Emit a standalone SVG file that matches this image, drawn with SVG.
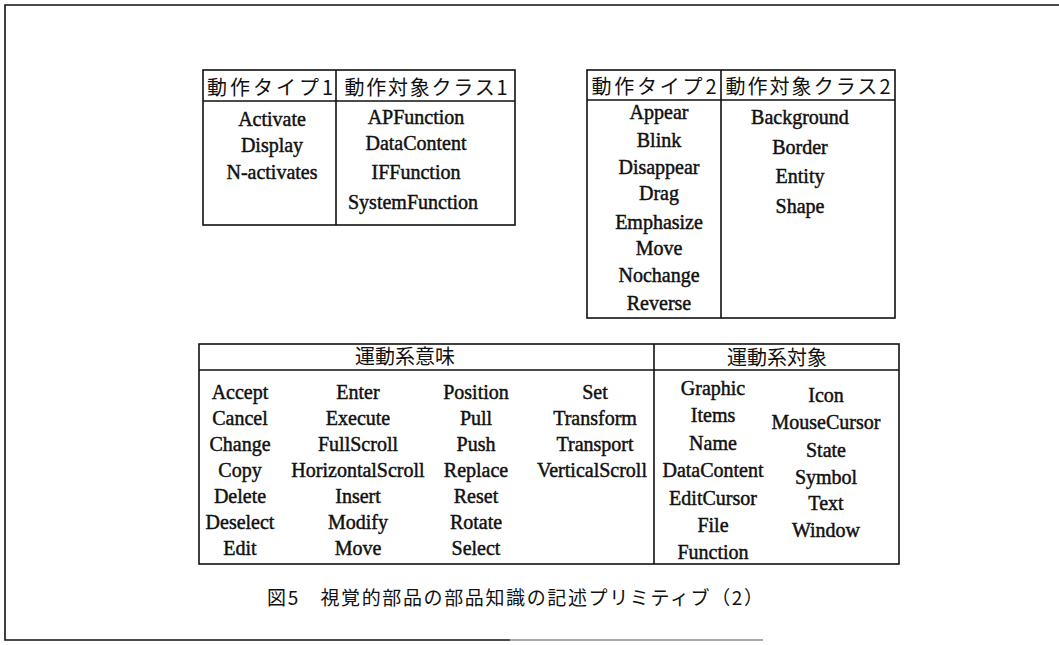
<svg xmlns="http://www.w3.org/2000/svg" width="1059" height="645" viewBox="0 0 1059 645">
<style>
.ln{stroke:#111;stroke-width:1.6;fill:none}
.t{font-family:"Liberation Serif",serif;font-size:20px;fill:#111;stroke:#111;stroke-width:0.45;text-anchor:middle}
.j{font-family:"Noto Sans CJK JP",sans-serif;font-size:20px;fill:#111;text-anchor:middle}
.c{font-family:"Noto Sans CJK JP",sans-serif;font-size:19px;fill:#111}
</style>
<rect width="1059" height="645" fill="#fff"/>
<g id="frame">
<path class="ln" d="M1059,5 H5 V640 H510"/>
<path d="M510,640 H763" stroke="#555" stroke-width="1.2"/>
</g>
<g id="table1">
<rect class="ln" x="203" y="70" width="312" height="155"/>
<path class="ln" d="M203,101 H515 M336,70 V225"/>
<text class="j" x="270" y="95" textLength="126" lengthAdjust="spacing">動作タイプ1</text>
<text class="j" x="426" y="95" textLength="163" lengthAdjust="spacing">動作対象クラス1</text>
<text class="t" x="272" y="126">Activate</text>
<text class="t" x="272" y="152">Display</text>
<text class="t" x="272" y="179">N-activates</text>
<text class="t" x="416" y="124">APFunction</text>
<text class="t" x="416" y="150">DataContent</text>
<text class="t" x="416" y="179">IFFunction</text>
<text class="t" x="413" y="209">SystemFunction</text>
</g>
<g id="table2">
<rect class="ln" x="587" y="70" width="308" height="248"/>
<path class="ln" d="M587,100 H895 M721,70 V318"/>
<text class="j" x="654" y="94" textLength="125" lengthAdjust="spacing">動作タイプ2</text>
<text class="j" x="808" y="94" textLength="165" lengthAdjust="spacing">動作対象クラス2</text>
<text class="t" x="659" y="119">Appear</text>
<text class="t" x="659" y="147">Blink</text>
<text class="t" x="659" y="174">Disappear</text>
<text class="t" x="659" y="200">Drag</text>
<text class="t" x="659" y="229">Emphasize</text>
<text class="t" x="659" y="255">Move</text>
<text class="t" x="659" y="282">Nochange</text>
<text class="t" x="659" y="310">Reverse</text>
<text class="t" x="800" y="124">Background</text>
<text class="t" x="800" y="154">Border</text>
<text class="t" x="800" y="183">Entity</text>
<text class="t" x="800" y="213">Shape</text>
</g>
<g id="table3">
<rect class="ln" x="199" y="344" width="700" height="220"/>
<path class="ln" d="M199,370 H899 M654,344 V564"/>
<text class="j" x="405" y="364">運動系意味</text>
<text class="j" x="777" y="365">運動系対象</text>
<g>
<text class="t" x="240" y="399">Accept</text>
<text class="t" x="240" y="425">Cancel</text>
<text class="t" x="240" y="451">Change</text>
<text class="t" x="240" y="477">Copy</text>
<text class="t" x="240" y="503">Delete</text>
<text class="t" x="240" y="529">Deselect</text>
<text class="t" x="240" y="555">Edit</text>
<text class="t" x="358" y="399">Enter</text>
<text class="t" x="358" y="425">Execute</text>
<text class="t" x="358" y="451">FullScroll</text>
<text class="t" x="358" y="477">HorizontalScroll</text>
<text class="t" x="358" y="503">Insert</text>
<text class="t" x="358" y="529">Modify</text>
<text class="t" x="358" y="555">Move</text>
<text class="t" x="476" y="399">Position</text>
<text class="t" x="476" y="425">Pull</text>
<text class="t" x="476" y="451">Push</text>
<text class="t" x="476" y="477">Replace</text>
<text class="t" x="476" y="503">Reset</text>
<text class="t" x="476" y="529">Rotate</text>
<text class="t" x="476" y="555">Select</text>
<text class="t" x="595" y="399">Set</text>
<text class="t" x="595" y="425">Transform</text>
<text class="t" x="595" y="451">Transport</text>
<text class="t" x="592" y="477">VerticalScroll</text>
</g>
<g>
<text class="t" x="713" y="395">Graphic</text>
<text class="t" x="713" y="422">Items</text>
<text class="t" x="713" y="450">Name</text>
<text class="t" x="713" y="477">DataContent</text>
<text class="t" x="713" y="505">EditCursor</text>
<text class="t" x="713" y="532">File</text>
<text class="t" x="713" y="559">Function</text>
<text class="t" x="826" y="402">Icon</text>
<text class="t" x="826" y="429">MouseCursor</text>
<text class="t" x="826" y="457">State</text>
<text class="t" x="826" y="484">Symbol</text>
<text class="t" x="826" y="510">Text</text>
<text class="t" x="826" y="537">Window</text>
</g>
</g>
<g id="caption">
<text class="c" x="267" y="605" textLength="496" lengthAdjust="spacing">図5　視覚的部品の部品知識の記述プリミティブ（2）</text>
</g>
</svg>
